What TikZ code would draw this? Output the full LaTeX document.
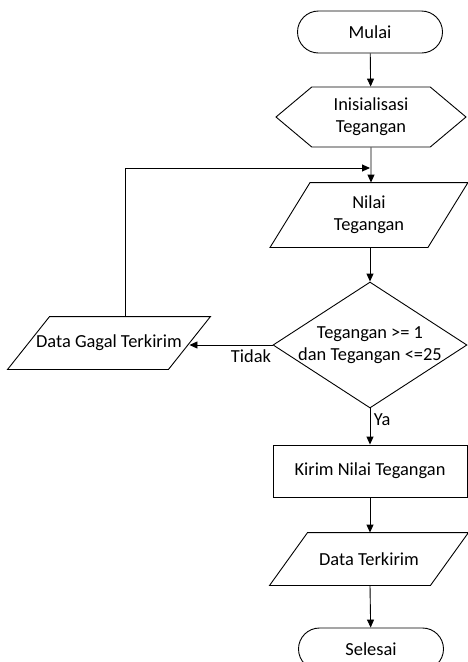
\documentclass[tikz,border=0pt]{standalone}
\usepackage{fontspec}
\setmainfont{Carlito}
\usetikzlibrary{shapes.geometric}
\usetikzlibrary{shapes.misc}
\usetikzlibrary{shapes.symbols}
\usetikzlibrary{arrows.meta}

\begin{document}
\begin{tikzpicture}[x=1pt, y=-1pt, line width=0.9pt,
    font=\fontsize{18.4}{22}\selectfont,
    terminal/.style={draw, rounded rectangle, minimum width=145pt, minimum height=42pt, inner sep=0pt},
    prep/.style={draw, signal, signal to=east and west, signal pointer angle=80, minimum width=190pt, minimum height=60pt, inner sep=0pt, align=center},
    % io box: the node is the body, the slanted sides are added after it
    io/.style={rectangle, inner sep=0pt, align=center,
      append after command={\pgfextra{\draw ([xshift=-#1]\tikzlastnode.south west) -- ([xshift=#1]\tikzlastnode.north west)
        -- ([xshift=#1]\tikzlastnode.north east) -- ([xshift=-#1]\tikzlastnode.south east) -- cycle;}}},
    process/.style={draw, rectangle, minimum width=194pt, minimum height=52pt, inner sep=0pt},
    decision/.style={draw, diamond, aspect=1.54, inner xsep=-9pt, inner ysep=0pt, minimum width=194pt, minimum height=126pt, align=center},
    arr/.style={-{Triangle[length=8pt,width=7pt]}}]
    \useasboundingbox (0,0) rectangle (467,662);

    \node[terminal] (mulai) at (370,32) {Mulai};
    \node[prep] (init) at (371,117) {Inisialisasi\\Tegangan};
    \node[io=20pt, minimum width=157pt, minimum height=64pt] (nilai) at (369,215) {Nilai\\Tegangan};
    \node[decision] (cek) at (370,345) {Tegangan >= 1\\dan Tegangan <=25};
    \node[io=21pt, minimum width=160pt, minimum height=52pt] (gagal) at (109,343) {Data Gagal Terkirim};
    \node[process] (kirim) at (370,471) {Kirim Nilai Tegangan};
    \node[io=19pt, minimum width=160pt, minimum height=52pt] (terkirim) at (369,559) {Data Terkirim};
    \node[terminal] (selesai) at (371,649) {Selesai};
    \coordinate (balik) at (370,168);

    \draw[arr] (mulai) -- (init);
    \draw[arr] (init) -- (nilai.north -| init);
    \draw[arr] (nilai.south -| cek) -- (cek);
    \draw[arr] (cek.west) -- node[pos=0.26, below=1pt] (tidak) {Tidak} (cek.west -| gagal.east);
    \draw[arr] ([xshift=16pt]gagal.north) |- (balik);
    \draw[arr] (cek) -- node[pos=0.3, right] (ya) {Ya} (kirim);
    \draw[arr] (kirim) -- (terkirim.north -| kirim);
    \draw[arr] (terkirim.south -| kirim) -- (selesai);
\end{tikzpicture}
\end{document}
